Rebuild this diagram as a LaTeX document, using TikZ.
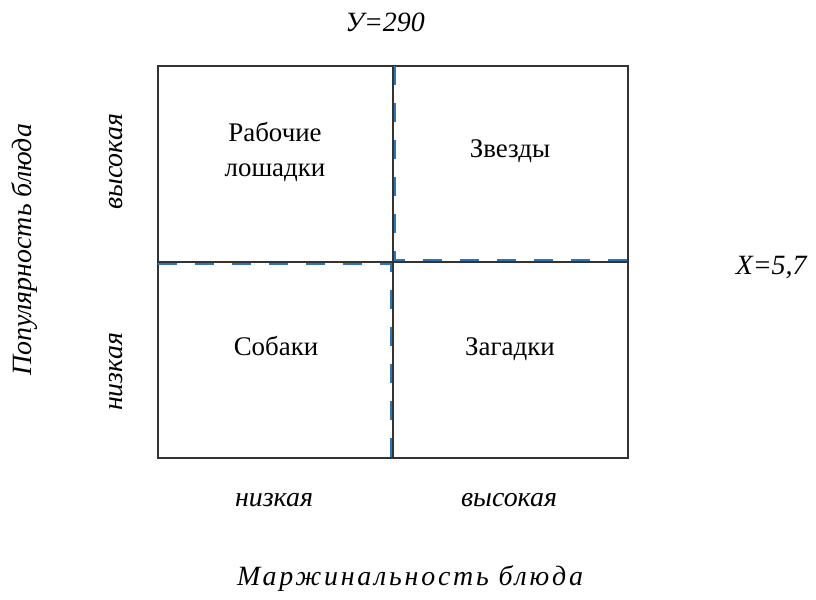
\documentclass[tikz,border=0pt]{standalone}
\usepackage{fontspec}
\setmainfont{Liberation Serif}
\usetikzlibrary{positioning}
\definecolor{cutblue}{RGB}{46,117,182}

\begin{document}
\begin{tikzpicture}[
    x=1bp, y=-1bp,
    quad/.style={align=center, font=\fontsize{27}{36}\selectfont},
    lbl/.style={font=\itshape\fontsize{28}{32}\selectfont},
    grid/.style={draw=black!80, line width=1.4bp},
    cut/.style={draw=cutblue, line width=2.5bp, dash pattern=on 19bp off 18bp}
]
\useasboundingbox (0,0) rectangle (816,600);
% matrix frame
\coordinate (nw) at (158,66);
\coordinate (se) at (628,458);
\coordinate (n) at (393,66);
\coordinate (s) at (393,458);
\coordinate (w) at (158,262);
\coordinate (e) at (628,262);
\coordinate (c) at (393,262);
\draw[grid] (nw) rectangle (se);
\draw[grid] (n) -- (s);
\draw[grid] (w) -- (e);
% split lines
\draw[cut] ([xshift=2bp]n) -- ([xshift=2bp,yshift=2bp]c) -- ([yshift=2bp]e);
\draw[cut] ([yshift=-2bp]w) -- ([xshift=-2bp,yshift=-2bp]c) -- ([xshift=-2bp]s);
% quadrants
\node[quad] (work) at (275,152) {Рабочие\\лошадки};
\node[quad, anchor=base] (star) at (510,158) {Звезды};
\node[quad, anchor=base] (dog) at (276,355) {Собаки};
\node[quad, anchor=base] (puzzle) at (510,355) {Загадки};
% axes
\node[lbl] (ylim) at (385,22) {У=290};
\node[lbl, anchor=east] (xlim) at (810,268) {X=5,7};
\node[lbl, rotate=90] (ytitle) at (25,250) {Популярность блюда};
\node[lbl, rotate=90] (yhigh) at (116,162) {высокая};
\node[lbl, rotate=90] (ylow) at (116,372) {низкая};
\node[lbl] (xlow) at (274,500) {низкая};
\node[lbl] (xhigh) at (509,500) {высокая};
\node[lbl, font=\itshape\fontsize{28}{32}\selectfont\addfontfeature{LetterSpace=10}] (xtitle) at (410,578) {Маржинальность блюда};
\end{tikzpicture}
\end{document}
